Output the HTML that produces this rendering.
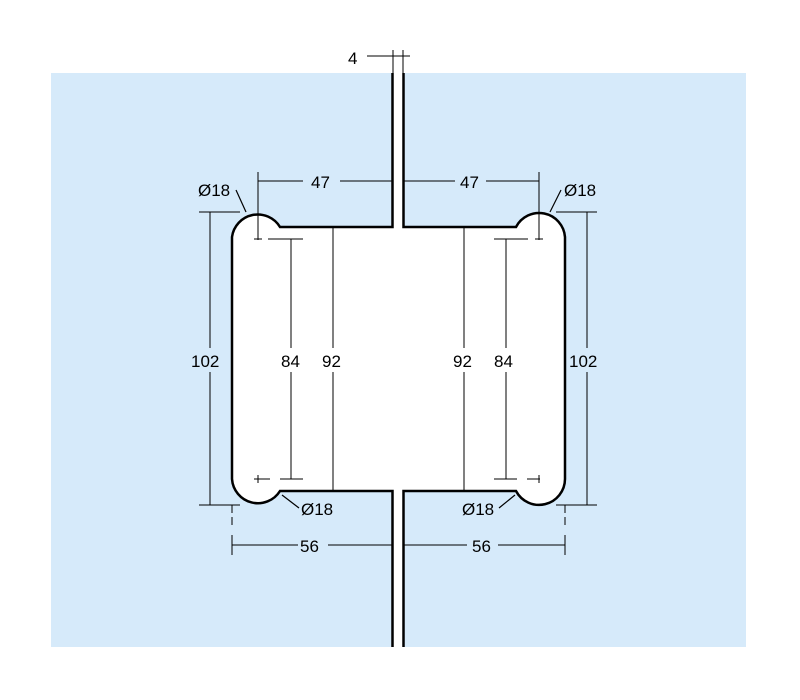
<!DOCTYPE html>
<html><head><meta charset="utf-8"><style>
body{margin:0;background:#fff;}
svg{display:block;}
text{font-family:"Liberation Sans",sans-serif;font-size:17px;fill:#000;}
</style></head><body>
<svg width="800" height="700" viewBox="0 0 800 700">
<rect x="51" y="73" width="695" height="574" fill="#d6eafa"/>
<path d="M392.5,73 V227 H280 A26,26 0 0 0 232,237 V479 A26,26 0 0 0 280,491 H392.5 V647 H403.5 V491 H516 A26,26 0 0 0 565,479 V237 A26,26 0 0 0 516,227 H403.5 V73 Z" fill="#fff"/>
<rect x="393" y="73" width="10" height="574" fill="#fff"/>
<g fill="none" stroke="#000" stroke-width="2.5">
<path d="M392.5,73 V227 H280 A26,26 0 0 0 232,237 V479 A26,26 0 0 0 280,491 H392.5 V647"/>
<path d="M403.5,73 V227 H516 A26,26 0 0 1 565,237 V479 A26,26 0 0 1 516,491 H403.5 V647"/>
</g>
<g stroke="#000" stroke-width="1.2" fill="none" shape-rendering="crispEdges">
<line x1="367" y1="56" x2="410" y2="56"/>
<line x1="393" y1="50" x2="393" y2="73"/><line x1="403" y1="50" x2="403" y2="73"/>
<line x1="258" y1="181" x2="303" y2="181"/><line x1="340" y1="181" x2="392" y2="181"/>
<line x1="258" y1="172" x2="258" y2="240"/>
<path d="M254,239 H262 M268,239 H280"/>
<line x1="404" y1="181" x2="455" y2="181"/><line x1="486" y1="181" x2="539" y2="181"/>
<line x1="539" y1="172" x2="539" y2="240"/>
<path d="M535,239 H543 M516,239 H528"/>
<line x1="199" y1="212" x2="240" y2="212"/><line x1="199" y1="505" x2="240" y2="505"/>
<line x1="210" y1="212" x2="210" y2="348"/><line x1="210" y1="372" x2="210" y2="505"/>
<line x1="556" y1="212" x2="597" y2="212"/><line x1="556" y1="505" x2="597" y2="505"/>
<line x1="587" y1="212" x2="587" y2="348"/><line x1="587" y1="372" x2="587" y2="505"/>
<line x1="280" y1="239" x2="303" y2="239"/><line x1="280" y1="479" x2="303" y2="479"/>
<line x1="291" y1="239" x2="291" y2="348"/><line x1="291" y1="372" x2="291" y2="479"/>
<path d="M258,479 H270 M254,479 H262"/><line x1="258" y1="475" x2="258" y2="483"/>
<line x1="494" y1="239" x2="517" y2="239"/><line x1="494" y1="479" x2="517" y2="479"/>
<line x1="506" y1="239" x2="506" y2="348"/><line x1="506" y1="372" x2="506" y2="479"/>
<path d="M527,479 H540"/><line x1="539" y1="475" x2="539" y2="483"/>
<line x1="333" y1="227" x2="333" y2="348"/><line x1="333" y1="372" x2="333" y2="491"/>
<line x1="464" y1="227" x2="464" y2="348"/><line x1="464" y1="372" x2="464" y2="491"/>
<line x1="232" y1="505" x2="232" y2="527" stroke-dasharray="8,4"/>
<line x1="232" y1="535" x2="232" y2="555"/>
<line x1="232" y1="545" x2="298" y2="545"/><line x1="328" y1="545" x2="392" y2="545"/>
<line x1="565" y1="505" x2="565" y2="527" stroke-dasharray="8,4"/>
<line x1="565" y1="535" x2="565" y2="555"/>
<line x1="404" y1="545" x2="467" y2="545"/><line x1="498" y1="545" x2="565" y2="545"/>
</g>
<g stroke="#000" stroke-width="1.2">
<line x1="236" y1="190" x2="246" y2="212"/>
<line x1="561" y1="190" x2="550" y2="212"/>
<line x1="282" y1="495" x2="299" y2="508"/>
<line x1="515" y1="495" x2="499" y2="508"/>
</g>
<text x="348" y="64">4</text>
<text x="311" y="188">47</text>
<text x="460" y="188">47</text>
<text x="198" y="196">Ø18</text>
<text x="564" y="196">Ø18</text>
<text x="301" y="515">Ø18</text>
<text x="462" y="515">Ø18</text>
<text x="191" y="367">102</text>
<text x="569" y="367">102</text>
<text x="281" y="367">84</text>
<text x="322" y="367">92</text>
<text x="453" y="367">92</text>
<text x="494" y="367">84</text>
<text x="300" y="552">56</text>
<text x="472" y="552">56</text>
</svg>
</body></html>
